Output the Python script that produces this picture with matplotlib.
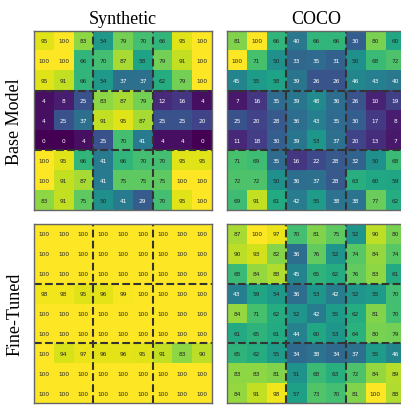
import numpy as np
import matplotlib.pyplot as plt

col_titles = ["Synthetic", "COCO"]
row_titles = ["Base Model", "Fine-Tuned"]

synth_base = [
    [95, 100, 83, 54, 79, 70, 66, 95, 100],
    [100, 100, 66, 70, 87, 58, 79, 91, 100],
    [95, 91, 66, 54, 37, 37, 62, 79, 100],
    [4, 8, 25, 83, 87, 79, 12, 16, 4],
    [4, 25, 37, 91, 95, 87, 25, 25, 20],
    [0, 0, 4, 25, 70, 41, 4, 4, 0],
    [100, 95, 66, 41, 66, 70, 70, 95, 95],
    [100, 91, 87, 41, 75, 75, 75, 100, 100],
    [83, 91, 75, 50, 41, 29, 70, 95, 100],
]
coco_base = [
    [81, 100, 66, 40, 66, 66, 30, 80, 60],
    [100, 71, 50, 33, 35, 31, 50, 68, 72],
    [45, 55, 58, 39, 26, 26, 46, 43, 40],
    [7, 16, 35, 39, 48, 36, 26, 10, 19],
    [25, 20, 28, 36, 43, 35, 30, 17, 8],
    [11, 18, 30, 39, 53, 37, 20, 13, 7],
    [71, 69, 35, 16, 22, 28, 32, 50, 68],
    [72, 72, 50, 36, 37, 28, 63, 60, 59],
    [69, 91, 61, 42, 55, 38, 38, 77, 62],
]
synth_ft = [
    [100, 100, 100, 100, 100, 100, 100, 100, 100],
    [100, 100, 100, 100, 100, 100, 100, 100, 100],
    [100, 100, 100, 100, 100, 100, 100, 100, 100],
    [98, 98, 95, 96, 99, 100, 100, 100, 100],
    [100, 100, 100, 100, 100, 100, 100, 100, 100],
    [100, 100, 100, 100, 100, 100, 100, 100, 100],
    [100, 94, 97, 96, 96, 95, 91, 83, 90],
    [100, 100, 100, 100, 100, 100, 100, 100, 100],
    [100, 100, 100, 100, 100, 100, 100, 100, 100],
]
coco_ft = [
    [87, 100, 97, 70, 81, 75, 52, 90, 80],
    [90, 93, 82, 36, 76, 52, 74, 84, 74],
    [68, 84, 88, 45, 65, 62, 76, 83, 61],
    [43, 59, 54, 36, 53, 42, 52, 55, 70],
    [84, 71, 62, 52, 42, 55, 62, 81, 70],
    [61, 65, 61, 44, 60, 53, 64, 80, 79],
    [65, 62, 55, 34, 38, 34, 37, 55, 46],
    [83, 83, 81, 51, 68, 63, 72, 84, 89],
    [84, 91, 98, 57, 73, 70, 81, 100, 88],
]

grids = [[synth_base, coco_base], [synth_ft, coco_ft]]

W, H = 402, 406
fig = plt.figure(figsize=(W / 100, H / 100), dpi=100)
serif = ["Liberation Serif", "DejaVu Serif"]

lefts = [34, 227]
tops = [32, 225]
pw, ph = 178, 179

for r in range(2):
    for c in range(2):
        ax = fig.add_axes([lefts[c] / W, (H - tops[r] - ph) / H, pw / W, ph / H])
        data = np.array(grids[r][c])
        ax.imshow(data, cmap="viridis", vmin=0, vmax=100, aspect="auto")
        for i in range(9):
            for j in range(9):
                v = data[i, j]
                ax.text(j, i, str(v), ha="center", va="center", fontsize=4.2,
                        color="white" if v < 50 else "#262626")
        for k in (2.5, 5.5):
            ax.axvline(k, color="#333333", ls="--", lw=1.5)
            ax.axhline(k, color="#333333", ls="--", lw=1.5)
        ax.set_xticks([])
        ax.set_yticks([])
        for s in ax.spines.values():
            s.set_color("#666666")
            s.set_linewidth(1.0)
        if r == 0:
            ax.set_title(col_titles[c], family=serif, fontsize=13, pad=6)
        if c == 0:
            fig.text(15 / W, 1 - (tops[r] + ph / 2) / H, row_titles[r],
                     rotation=90, ha="center", va="center",
                     family=serif, fontsize=13)

fig.savefig("out.png", dpi=100)
